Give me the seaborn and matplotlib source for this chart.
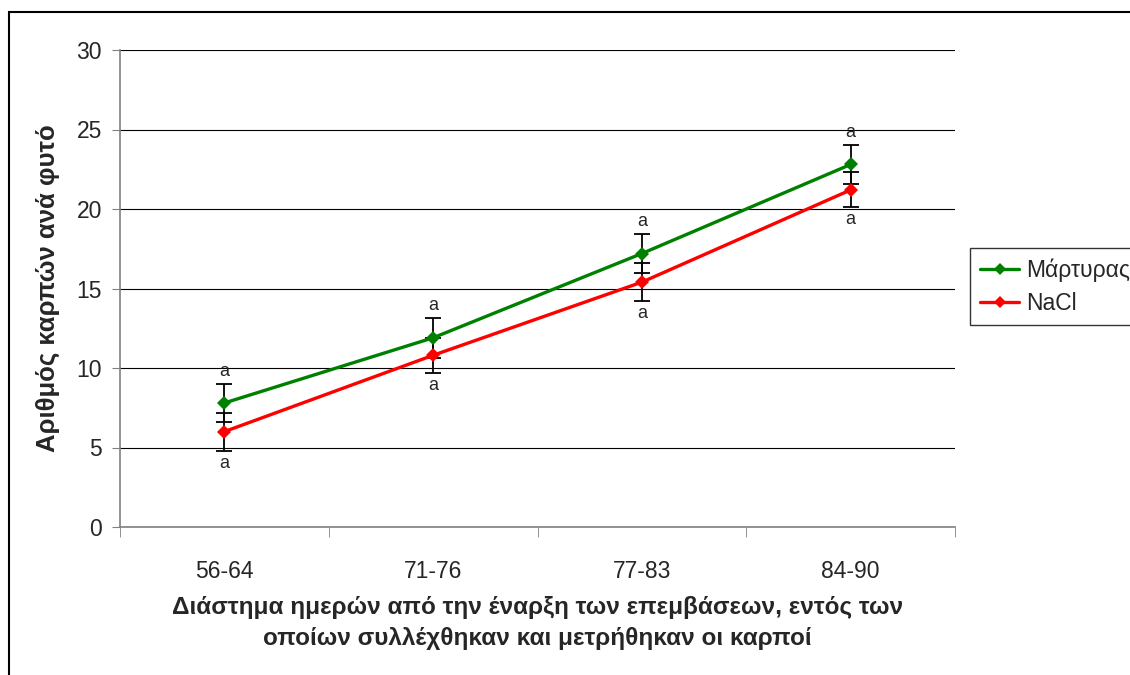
import pandas as pd
import numpy as np
import matplotlib
matplotlib.use("Agg")
import matplotlib.pyplot as plt
import seaborn as sns
from matplotlib.patches import Rectangle

# data
periods = ["56-64", "71-76", "77-83", "84-90"]
control = [7.8, 11.9, 17.2, 22.8]
control_err = [1.2, 1.25, 1.2, 1.2]
nacl = [6.0, 10.8, 15.4, 21.2]
nacl_err = [1.2, 1.1, 1.2, 1.1]
letters_control = ["a", "a", "a", "a"]
letters_nacl = ["a", "a", "a", "a"]
series_names = ["Μάρτυρας", "NaCl"]
colors = {"Μάρτυρας": "#008000", "NaCl": "#FF0000"}

sns.set_style("white")
plt.rcParams['font.family'] = ['Liberation Sans', 'DejaVu Sans']

df = pd.DataFrame({
    "pos": list(range(len(periods))) * 2,
    "value": control + nacl,
    "err": control_err + nacl_err,
    "series": [series_names[0]] * len(periods) + [series_names[1]] * len(periods),
})

fig = plt.figure(figsize=(11.3, 6.75), dpi=100)
ax = fig.add_axes([120 / 1130, 1 - 527 / 675, (955 - 120) / 1130, (527 - 50) / 675])

# error bars first, lines on top
for name in series_names:
    sub = df[df["series"] == name]
    ax.errorbar(sub["pos"], sub["value"], yerr=sub["err"], fmt="none",
                ecolor="black", elinewidth=1.3, capsize=6, capthick=1.3, zorder=3)

sns.lineplot(data=df, x="pos", y="value", hue="series", hue_order=series_names,
             palette=colors, marker="D", markersize=7, markeredgewidth=0,
             linewidth=2.4, ax=ax, zorder=4, legend=False)

# significance letters
for i in range(len(periods)):
    ax.text(i, control[i] + control_err[i] + 0.25, letters_control[i],
            ha="center", va="bottom", fontsize=13)
    ax.text(i, nacl[i] - nacl_err[i] - 0.25, letters_nacl[i],
            ha="center", va="top", fontsize=13)

ax.set_xlim(-0.5, len(periods) - 0.5)
ax.set_ylim(0, 30)
ax.set_yticks(np.arange(0, 31, 5))
ax.set_yticklabels([str(v) for v in range(0, 31, 5)], fontsize=16.5)
ax.set_xticks(range(len(periods)))
ax.set_xticklabels(periods, fontsize=16.5)
ax.set_xticks(np.arange(-0.5, len(periods), 1), minor=True)
ax.tick_params(axis="x", which="major", length=0, pad=24)
ax.tick_params(axis="x", which="minor", length=7, color="#808080", direction="out", bottom=True)
ax.tick_params(axis="y", which="major", length=6, color="#808080", direction="out", left=True, pad=7)

ax.yaxis.grid(True, color="#000000", linewidth=0.8)
ax.xaxis.grid(False)
ax.set_axisbelow(True)
for s in ["top", "right"]:
    ax.spines[s].set_visible(False)
for s in ["left", "bottom"]:
    ax.spines[s].set_color("#808080")
    ax.spines[s].set_linewidth(1.2)

ax.set_xlabel("Διάστημα ημερών από την έναρξη των επεμβάσεων, εντός των\n"
              "οποίων συλλέχθηκαν και μετρήθηκαν οι καρποί",
              fontsize=17.5, fontweight="bold", labelpad=9, linespacing=1.45)
ax.set_ylabel("Αριθμός καρπών ανά φυτό", fontsize=18.5, fontweight="bold", labelpad=12)

# legend outside on the right
handles = [plt.Line2D([], [], color=colors[n], marker="D", markersize=6,
                      linewidth=2.4, markeredgewidth=0) for n in series_names]
leg = fig.legend(handles, series_names, loc="upper left",
                 bbox_to_anchor=(970 / 1130, 1 - 248 / 675), fontsize=16.5,
                 frameon=True, fancybox=False, edgecolor="black",
                 handlelength=1.7, handletextpad=0.3, borderpad=0.45,
                 borderaxespad=0, labelspacing=0.45)
leg.get_frame().set_linewidth(1.0)

# outer chart frame
fig.patches.append(Rectangle((9 / 1130, -0.1), 1.2, 1 - 12 / 675 + 0.1,
                             transform=fig.transFigure, fill=False,
                             edgecolor="black", linewidth=1.5))

fig.savefig("out.png", dpi=100)
